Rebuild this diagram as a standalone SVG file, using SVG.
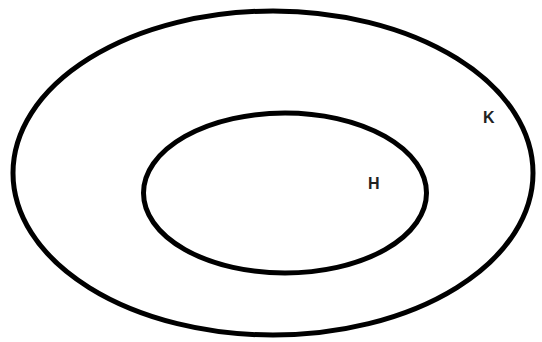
<svg xmlns="http://www.w3.org/2000/svg" width="542" height="342" viewBox="0 0 542 342">
<style>
.set{fill:none;stroke:#000;stroke-width:5}
.lbl{font-family:"Liberation Sans",Arial,sans-serif;font-weight:bold;font-size:16px;fill:#222}
</style>
<rect width="542" height="342" fill="#fff"/>
<g id="K">
<ellipse class="set" cx="273" cy="173" rx="260" ry="162"/>
<text class="lbl" x="483" y="123">K</text>
</g>
<g id="H">
<ellipse class="set" cx="285" cy="193" rx="141.5" ry="80"/>
<text class="lbl" x="368" y="189">H</text>
</g>
<g id="connectors"></g>
</svg>
